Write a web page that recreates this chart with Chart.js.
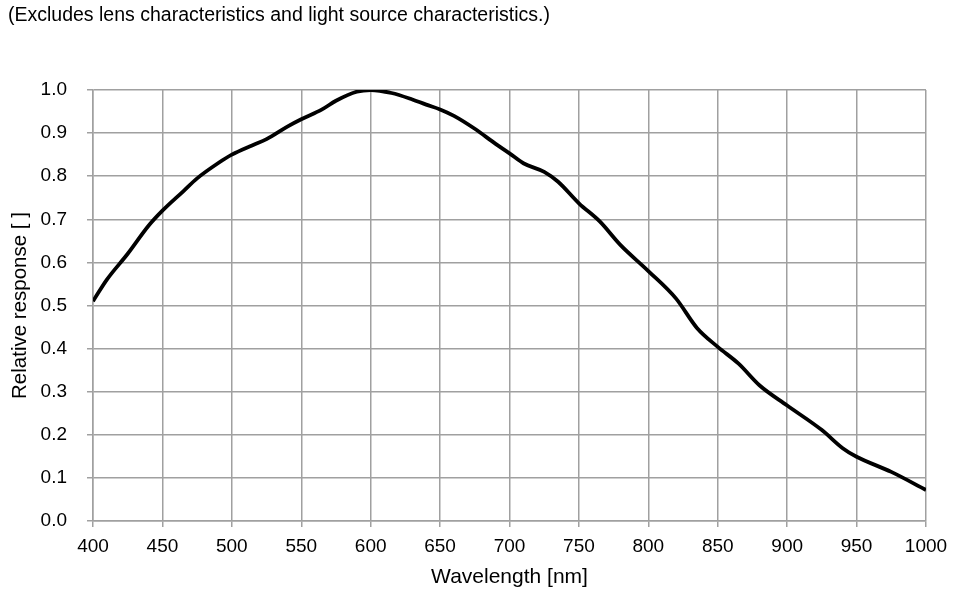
<!DOCTYPE html>
<html>
<head>
<meta charset="utf-8">
<script src="https://cdn.jsdelivr.net/npm/chart.js@4"></script>
<style>
  html, body { margin: 0; padding: 0; background: #fff; }
  #wrap { width: 960px; height: 594px; }
</style>
</head>
<body>
<div id="wrap"><canvas id="ChartResponse" width="960" height="594"></canvas></div>
<script>
// Datos
const wavelengths = [400, 410, 425, 440, 450, 465, 475, 490, 500, 515, 525, 540, 550, 565, 575, 590,
    600, 615, 630, 640, 650, 660, 675, 690, 700, 710, 725, 735, 750, 765, 780,
    800, 820, 835, 850, 865, 880, 900, 925, 940, 950, 975, 1000];
const response = [0.51, 0.56, 0.62, 0.685, 0.72, 0.765, 0.795, 0.83, 0.85, 0.872, 0.886, 0.915, 0.932, 0.955, 0.975, 0.996,
    1.0, 0.993, 0.978, 0.966, 0.955, 0.94, 0.91, 0.875, 0.853, 0.83, 0.81, 0.787, 0.737, 0.695, 0.64,
    0.58, 0.516, 0.448, 0.404, 0.365, 0.315, 0.268, 0.211, 0.169, 0.149, 0.114, 0.072];
const noteText = '(Excludes lens characteristics and light source characteristics.)';
const xTitle = 'Wavelength [nm]';
const yTitle = 'Relative response [ ]';

const gridColor = '#a0a0a0';
const fontFam = '"Liberation Sans", Arial, sans-serif';

document.addEventListener('DOMContentLoaded', function () {
    const points = wavelengths.map((w, i) => ({ x: w, y: response[i] }));

    const config = {
        type: 'line',
        data: {
            datasets: [{
                data: points,
                borderColor: '#000',
                borderWidth: 3.8,
                pointRadius: 0,
                cubicInterpolationMode: 'monotone',
                fill: false
            }]
        },
        options: {
            responsive: false,
            animation: false,
            layout: { padding: { left: 8, right: 34, top: 0, bottom: 0 } },
            plugins: {
                legend: { display: false },
                tooltip: { enabled: false },
                title: {
                    display: true,
                    text: noteText,
                    align: 'start',
                    color: '#000',
                    font: { family: fontFam, size: 19.5, weight: 'normal' },
                    padding: { top: 4, bottom: 62.6 }
                }
            },
            scales: {
                x: {
                    type: 'linear',
                    min: 400,
                    max: 1000,
                    afterFit: function (scale) { scale.height = 73; },
                    ticks: {
                        stepSize: 50,
                        color: '#000',
                        padding: 8,
                        maxRotation: 0,
                        font: { family: fontFam, size: 19 },
                        callback: function (v) { return String(v); }
                    },
                    grid: { color: gridColor, lineWidth: 1.5, tickLength: 6 },
                    border: { color: gridColor, width: 1.5 },
                    title: {
                        display: true,
                        text: xTitle,
                        color: '#000',
                        font: { family: fontFam, size: 21 },
                        padding: { top: 0, bottom: 4 }
                    }
                },
                y: {
                    min: 0,
                    max: 1,
                    afterFit: function (scale) { scale.width = 85; },
                    ticks: {
                        stepSize: 0.1,
                        color: '#000',
                        padding: 20,
                        font: { family: fontFam, size: 19 },
                        callback: function (v) { return v.toFixed(1); }
                    },
                    grid: { color: gridColor, lineWidth: 1.5, tickLength: 6 },
                    border: { color: gridColor, width: 1.5 },
                    title: {
                        display: true,
                        text: yTitle,
                        color: '#000',
                        font: { family: fontFam, size: 20.5 },
                        padding: { top: 0, bottom: 0 }
                    }
                }
            }
        }
    };

    new Chart(document.getElementById('ChartResponse'), config);
});
</script>
</body>
</html>
